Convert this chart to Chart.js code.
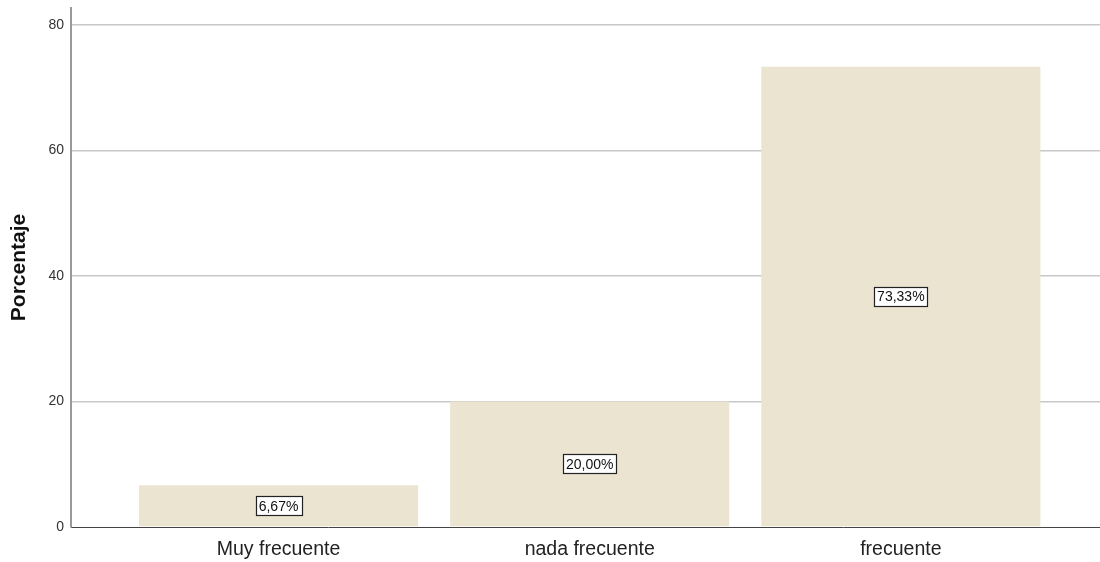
<!DOCTYPE html>
<html>
<head>
<meta charset="utf-8">
<script src="https://cdn.jsdelivr.net/npm/chart.js@4"></script>
<style>
html,body{margin:0;padding:0;background:#fff;}
#wrap{width:1100px;height:562px;position:relative;}
</style>
</head>
<body>
<div id="wrap"><canvas id="c"></canvas></div>
<script>
const categories = ["Muy frecuente", "nada frecuente", "frecuente"];
const values = [6.67, 20.00, 73.33];
const valueLabels = ["6,67%", "20,00%", "73,33%"];
const yTicks = [0, 20, 40, 60, 80];

const FONT = '"Liberation Sans", Arial, sans-serif';

const boxLabels = {
  id: 'boxLabels',
  afterDatasetsDraw(chart) {
    const ctx = chart.ctx;
    const meta = chart.getDatasetMeta(0);
    ctx.save();
    ctx.font = '14px ' + FONT;
    ctx.textAlign = 'center';
    ctx.textBaseline = 'middle';
    meta.data.forEach((bar, i) => {
      const txt = valueLabels[i];
      const x = bar.x;
      const y = (bar.y + bar.base) / 2;
      const w = Math.round(ctx.measureText(txt).width + 6);
      const h = 19;
      const bx = Math.round(x - w / 2) + 0.5, by = Math.round(y - h / 2) + 0.5;
      ctx.fillStyle = '#fff';
      ctx.fillRect(bx, by, w, h);
      ctx.strokeStyle = '#222';
      ctx.lineWidth = 1.2;
      ctx.strokeRect(bx, by, w, h);
      ctx.fillStyle = '#111';
      ctx.fillText(txt, x, y + 1);
    });
    ctx.restore();
  }
};

new Chart(document.getElementById('c'), {
  type: 'bar',
  data: {
    datasets: [{
      data: values.map((v, i) => ({ x: i, y: v })),
      backgroundColor: '#EBE4D0',
      borderWidth: 0,
      categoryPercentage: 1,
      barPercentage: 0.897
    }]
  },
  options: {
    responsive: true,
    maintainAspectRatio: false,
    animation: false,
    layout: { padding: { top: 8, right: 0, left: 0, bottom: 0 } },
    plugins: { legend: { display: false }, tooltip: { enabled: false } },
    scales: {
      x: {
        type: 'linear',
        offset: false,
        min: -0.667,
        max: 2.64,
        afterBuildTicks(axis) { axis.ticks = categories.map((c, i) => ({ value: i })); },
        afterFit(axis) { axis.height = 35; axis.paddingLeft = 0; axis.paddingRight = 0; },
        ticks: {
          autoSkip: false,
          maxRotation: 0,
          padding: 11,
          color: '#222',
          font: { size: 19.5, family: FONT },
          callback: (v) => categories[v]
        },
        grid: { display: false, drawTicks: false },
        border: { display: true, color: '#444', width: 1 }
      },
      y: {
        min: 0,
        max: 82.7,
        afterBuildTicks(axis) { axis.ticks = yTicks.map(v => ({ value: v })); },
        afterFit(axis) { axis.width = 71; axis.paddingTop = 0; axis.paddingBottom = 0; },
        ticks: {
          padding: 7,
          color: '#333',
          font: { size: 14, family: FONT }
        },
        grid: { color: (ctx) => ctx.tick && ctx.tick.value === 0 ? 'rgba(0,0,0,0)' : '#c8c8c8', lineWidth: 1.5, drawTicks: false },
        border: { display: true, color: '#999', width: 2 },
        title: {
          display: true,
          text: 'Porcentaje',
          color: '#111',
          padding: { top: 7, bottom: 10 },
          font: { size: 21, weight: 'bold', family: FONT }
        }
      }
    }
  },
  plugins: [boxLabels]
});
</script>
</body>
</html>
